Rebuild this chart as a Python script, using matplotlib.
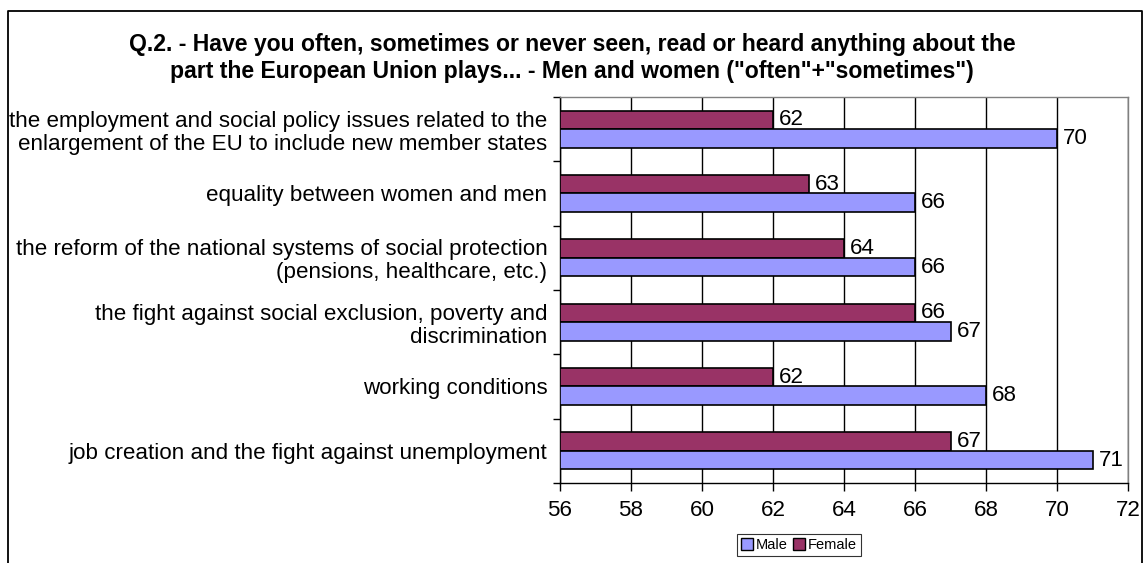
import matplotlib
matplotlib.use("Agg")
import matplotlib.pyplot as plt
from matplotlib.lines import Line2D
from matplotlib.patches import Patch
import numpy as np

plt.rcParams['font.family'] = ['Liberation Sans', 'DejaVu Sans']

categories = [
    "the employment and social policy issues related to the\nenlargement of the EU to include new member states",
    "equality between women and men",
    "the reform of the national systems of social protection\n(pensions, healthcare, etc.)",
    "the fight against social exclusion, poverty and\ndiscrimination",
    "working conditions",
    "job creation and the fight against unemployment",
]
male = [70, 66, 66, 67, 68, 71]
female = [62, 63, 64, 66, 62, 67]
x_ticks = [56, 58, 60, 62, 64, 66, 68, 70, 72]

title = ('Q.2. - Have you often, sometimes or never seen, read or heard anything about the\n'
         'part the European Union plays... - Men and women ("often"+"sometimes")')

male_color = "#9999FF"
female_color = "#993366"
fs = 16.1

fig = plt.figure(figsize=(11.44, 5.63), dpi=100)
ax = fig.add_axes([560/1144, 1 - 483/563, (1128 - 560)/1144, (483 - 97)/563])

y = np.arange(len(categories))
h = 0.29
x0 = x_ticks[0]
ax.barh(y - h/2, np.array(female) - x0, left=x0, height=h, color=female_color,
        edgecolor="black", linewidth=1.2, zorder=3, label="Female")
ax.barh(y + h/2, np.array(male) - x0, left=x0, height=h, color=male_color,
        edgecolor="black", linewidth=1.2, zorder=3, label="Male")

for yi, v in zip(y, female):
    ax.text(v + 0.17, yi - h/2, f"{v}", va="center", ha="left", fontsize=fs, zorder=4)
for yi, v in zip(y, male):
    ax.text(v + 0.17, yi + h/2, f"{v}", va="center", ha="left", fontsize=fs, zorder=4)

ax.set_xlim(x_ticks[0], x_ticks[-1])
ax.set_ylim(len(categories) - 0.5, -0.5)
ax.set_xticks(x_ticks)
ax.set_xticklabels([str(t) for t in x_ticks], fontsize=fs)
ax.set_yticks(y)
ax.set_yticklabels(categories, fontsize=fs, linespacing=1.12)
ax.set_yticks(np.arange(-0.5, len(categories) + 0.5, 1), minor=True)
ax.tick_params(axis="y", which="major", length=0, pad=9)
ax.tick_params(axis="y", which="minor", length=5, width=1, direction="out")
ax.tick_params(axis="x", which="major", length=6, width=1, direction="out", pad=6)

ax.grid(axis="x", color="black", linewidth=1, zorder=0)
ax.set_axisbelow(True)
for s in ["left", "bottom"]:
    ax.spines[s].set_color("black")
    ax.spines[s].set_linewidth(1)
for s in ["top", "right"]:
    ax.spines[s].set_color("#808080")
    ax.spines[s].set_linewidth(1)

fig.text(0.5, 1 - 58/563, title, ha="center", va="center", fontsize=16.6,
         fontweight="bold", linespacing=1.2)

handles = [Patch(facecolor=male_color, edgecolor="black", label="Male"),
           Patch(facecolor=female_color, edgecolor="black", label="Female")]
leg = fig.legend(handles=handles, loc="center", bbox_to_anchor=(799/1144, 1 - 545/563),
                 ncol=2, fontsize=10.5, frameon=True, fancybox=False, handlelength=0.8,
                 handleheight=0.8, handletextpad=0.2, columnspacing=0.4,
                 borderpad=0.25, borderaxespad=0)
leg.get_frame().set_edgecolor("black")
leg.get_frame().set_linewidth(0.8)

# outer chart frame
fx = [8/1144, 8/1144, 1142/1144, 1142/1144]
fy = [0, 1 - 11/563, 1 - 11/563, 0]
fig.add_artist(Line2D(fx, fy, transform=fig.transFigure, color="black", linewidth=1.3))

fig.savefig("out.png", dpi=100)
